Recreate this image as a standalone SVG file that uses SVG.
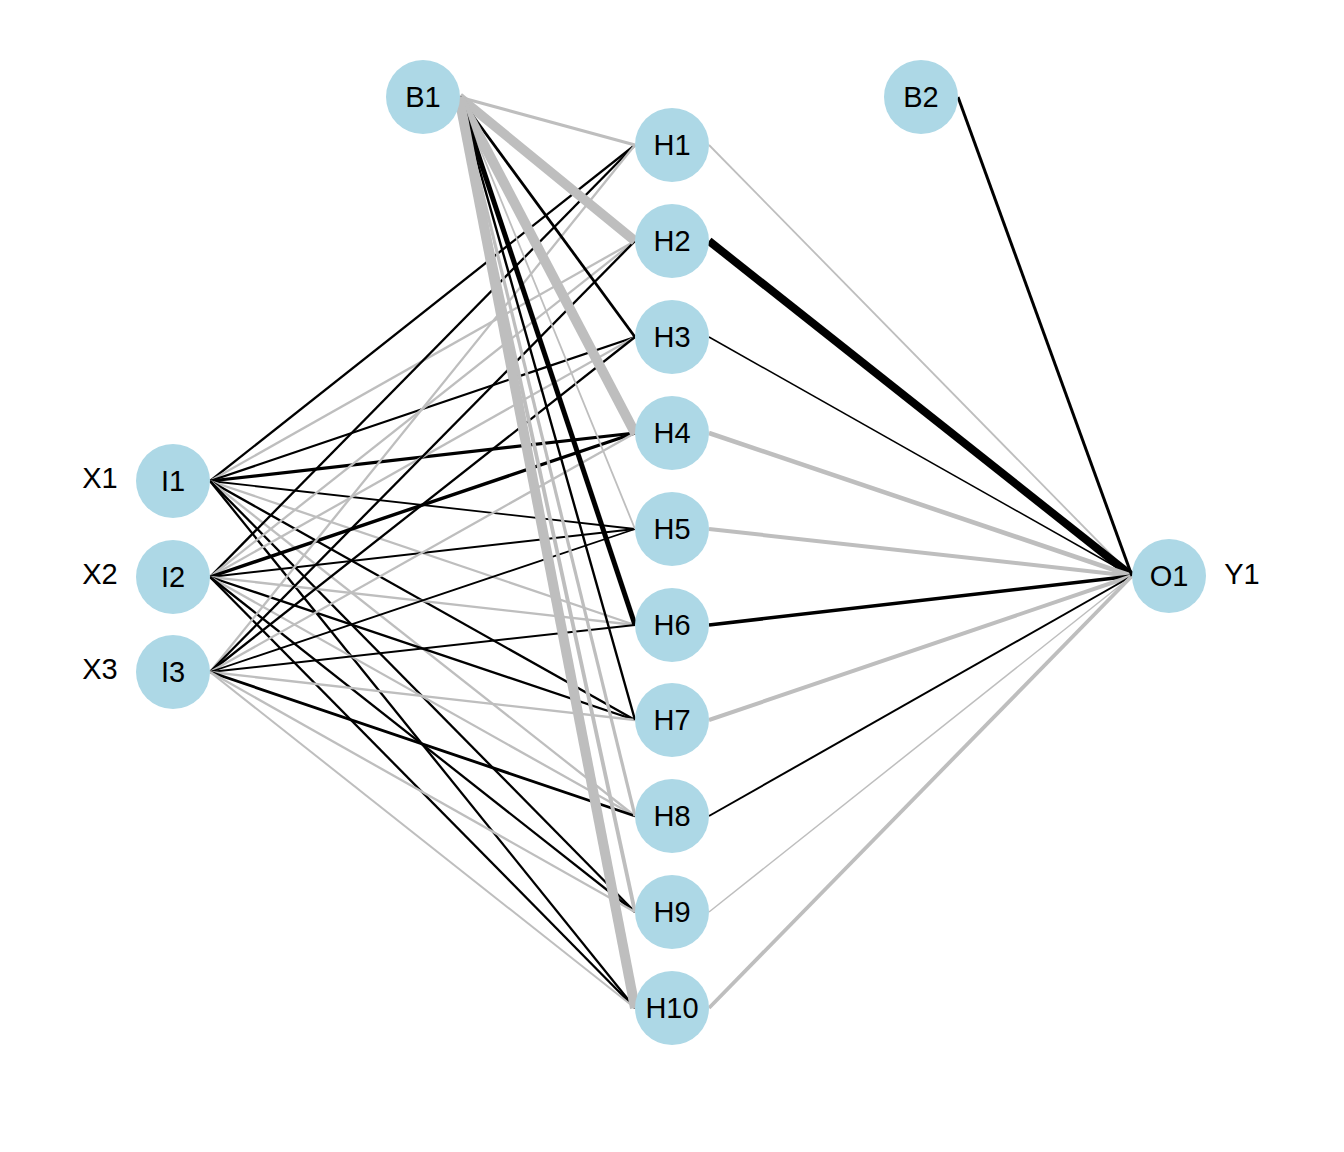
<svg xmlns="http://www.w3.org/2000/svg" width="1344" height="1152" viewBox="0 0 1344 1152">
<style>
.p{stroke:#000000;fill:none}
.n{stroke:#BEBEBE;fill:none}
.node circle{fill:#ADD8E6;stroke:none}
text{font-family:"Liberation Sans",Arial,Helvetica,sans-serif;font-size:29px;fill:#000;text-anchor:middle;dominant-baseline:central}
</style>
<rect width="1344" height="1152" fill="#ffffff"/>
<g id="connectors">
<!-- I1 -->
<line class="p" stroke-width="2.3" x1="210" y1="481" x2="635" y2="145"/>
<line class="n" stroke-width="2.3" x1="210" y1="481" x2="635" y2="241"/>
<line class="p" stroke-width="2.3" x1="210" y1="481" x2="635" y2="337"/>
<line class="p" stroke-width="3.2" x1="210" y1="481" x2="635" y2="433"/>
<line class="p" stroke-width="1.8" x1="210" y1="481" x2="635" y2="529"/>
<line class="n" stroke-width="2.3" x1="210" y1="481" x2="635" y2="625"/>
<line class="p" stroke-width="2.3" x1="210" y1="481" x2="635" y2="720"/>
<line class="n" stroke-width="2.3" x1="210" y1="481" x2="635" y2="816"/>
<line class="p" stroke-width="2.3" x1="210" y1="481" x2="635" y2="912"/>
<line class="p" stroke-width="2.3" x1="210" y1="481" x2="635" y2="1008"/>
<!-- I2 -->
<line class="p" stroke-width="2.3" x1="210" y1="577" x2="635" y2="145"/>
<line class="n" stroke-width="2.3" x1="210" y1="577" x2="635" y2="241"/>
<line class="n" stroke-width="2.3" x1="210" y1="577" x2="635" y2="337"/>
<line class="p" stroke-width="3.4" x1="210" y1="577" x2="635" y2="433"/>
<line class="p" stroke-width="2" x1="210" y1="577" x2="635" y2="529"/>
<line class="n" stroke-width="2.3" x1="210" y1="577" x2="635" y2="625"/>
<line class="p" stroke-width="2.3" x1="210" y1="577" x2="635" y2="720"/>
<line class="n" stroke-width="2.3" x1="210" y1="577" x2="635" y2="816"/>
<line class="p" stroke-width="2.3" x1="210" y1="577" x2="635" y2="912"/>
<line class="p" stroke-width="2.3" x1="210" y1="577" x2="635" y2="1008"/>
<!-- I3 -->
<line class="n" stroke-width="2.3" x1="210" y1="672" x2="635" y2="145"/>
<line class="p" stroke-width="2.3" x1="210" y1="672" x2="635" y2="241"/>
<line class="p" stroke-width="2.3" x1="210" y1="672" x2="635" y2="337"/>
<line class="n" stroke-width="2.3" x1="210" y1="672" x2="635" y2="433"/>
<line class="p" stroke-width="1.8" x1="210" y1="672" x2="635" y2="529"/>
<line class="p" stroke-width="2" x1="210" y1="672" x2="635" y2="625"/>
<line class="n" stroke-width="2.3" x1="210" y1="672" x2="635" y2="720"/>
<line class="p" stroke-width="2.9" x1="210" y1="672" x2="635" y2="816"/>
<line class="n" stroke-width="2.3" x1="210" y1="672" x2="635" y2="912"/>
<line class="n" stroke-width="2" x1="210" y1="672" x2="635" y2="1008"/>
<!-- B1 -->
<line class="n" stroke-width="3.3" x1="459" y1="97" x2="635" y2="145"/>
<line class="n" stroke-width="9.5" x1="459" y1="97" x2="635" y2="241"/>
<line class="p" stroke-width="2.8" x1="459" y1="97" x2="635" y2="337"/>
<line class="n" stroke-width="10" x1="459" y1="97" x2="635" y2="433"/>
<line class="n" stroke-width="1.8" x1="459" y1="97" x2="635" y2="529"/>
<line class="p" stroke-width="5" x1="459" y1="97" x2="635" y2="625"/>
<line class="p" stroke-width="2.4" x1="459" y1="97" x2="635" y2="720"/>
<line class="n" stroke-width="3.2" x1="459" y1="97" x2="635" y2="816"/>
<line class="n" stroke-width="3.8" x1="459" y1="97" x2="635" y2="912"/>
<line class="n" stroke-width="10" x1="459" y1="97" x2="635" y2="1008"/>
<!-- H to O -->
<line class="n" stroke-width="1.8" x1="709" y1="145" x2="1132" y2="576"/>
<line class="p" stroke-width="8" x1="709" y1="241" x2="1132" y2="576"/>
<line class="p" stroke-width="1.5" x1="709" y1="337" x2="1132" y2="576"/>
<line class="n" stroke-width="4.6" x1="709" y1="433" x2="1132" y2="576"/>
<line class="n" stroke-width="4" x1="709" y1="529" x2="1132" y2="576"/>
<line class="p" stroke-width="3.5" x1="709" y1="625" x2="1132" y2="576"/>
<line class="n" stroke-width="4" x1="709" y1="720" x2="1132" y2="576"/>
<line class="p" stroke-width="2" x1="709" y1="816" x2="1132" y2="576"/>
<line class="n" stroke-width="1.5" x1="709" y1="912" x2="1132" y2="576"/>
<line class="n" stroke-width="3.8" x1="709" y1="1008" x2="1132" y2="576"/>
<!-- B2 -->
<line class="p" stroke-width="3" x1="958" y1="97" x2="1132" y2="576"/>
</g>
<g id="labels">
<text x="100" y="478">X1</text>
<text x="100" y="574">X2</text>
<text x="100" y="669">X3</text>
<text x="1242" y="574">Y1</text>
</g>
<g id="I1" class="node"><circle cx="173" cy="481" r="37"/><text x="173" y="481">I1</text></g>
<g id="I2" class="node"><circle cx="173" cy="577" r="37"/><text x="173" y="577">I2</text></g>
<g id="I3" class="node"><circle cx="173" cy="672" r="37"/><text x="173" y="672">I3</text></g>
<g id="B1" class="node"><circle cx="423" cy="97" r="37"/><text x="423" y="97">B1</text></g>
<g id="B2" class="node"><circle cx="921" cy="97" r="37"/><text x="921" y="97">B2</text></g>
<g id="H1" class="node"><circle cx="672" cy="145" r="37"/><text x="672" y="145">H1</text></g>
<g id="H2" class="node"><circle cx="672" cy="241" r="37"/><text x="672" y="241">H2</text></g>
<g id="H3" class="node"><circle cx="672" cy="337" r="37"/><text x="672" y="337">H3</text></g>
<g id="H4" class="node"><circle cx="672" cy="433" r="37"/><text x="672" y="433">H4</text></g>
<g id="H5" class="node"><circle cx="672" cy="529" r="37"/><text x="672" y="529">H5</text></g>
<g id="H6" class="node"><circle cx="672" cy="625" r="37"/><text x="672" y="625">H6</text></g>
<g id="H7" class="node"><circle cx="672" cy="720" r="37"/><text x="672" y="720">H7</text></g>
<g id="H8" class="node"><circle cx="672" cy="816" r="37"/><text x="672" y="816">H8</text></g>
<g id="H9" class="node"><circle cx="672" cy="912" r="37"/><text x="672" y="912">H9</text></g>
<g id="H10" class="node"><circle cx="672" cy="1008" r="37"/><text x="672" y="1008">H10</text></g>
<g id="O1" class="node"><circle cx="1169" cy="576" r="37"/><text x="1169" y="576">O1</text></g>
</svg>
